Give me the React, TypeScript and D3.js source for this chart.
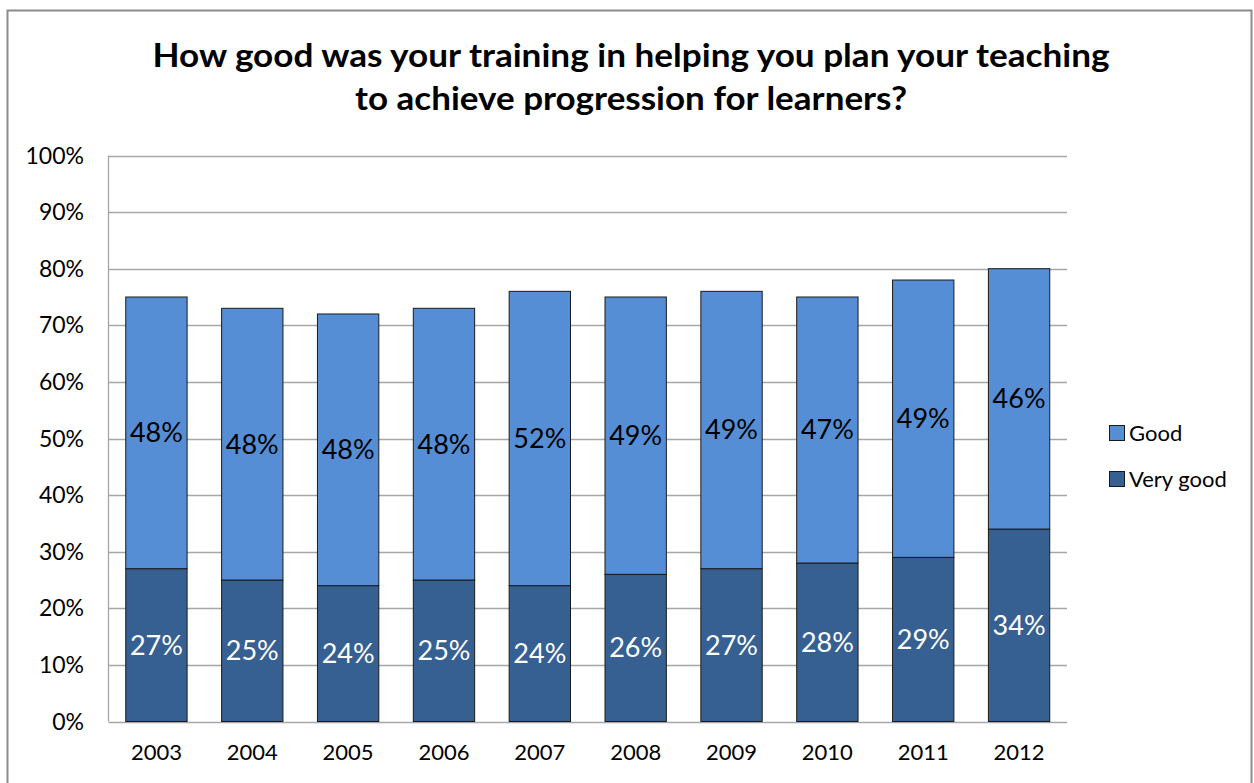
import React from "react";
import * as d3 from "d3";

const years = ["2003", "2004", "2005", "2006", "2007", "2008", "2009", "2010", "2011", "2012"];
const veryGood = [27, 25, 24, 25, 24, 26, 27, 28, 29, 34];
const good = [48, 48, 48, 48, 52, 49, 49, 47, 49, 46];
const yTicks = [0, 10, 20, 30, 40, 50, 60, 70, 80, 90, 100];
const titleLines = [
  "How good was your training in helping you plan your teaching",
  "to achieve progression for learners?",
];
const seriesNames = ["Good", "Very good"];

const COLOR_GOOD = "#558ED5";
const COLOR_VG = "#376092";
const FONT = "Lato, 'Open Sans', sans-serif";

export default function App() {
  const W = 1254, H = 783;
  const left = 108.5, right = 1067, top = 155.5, bottom = 721.5;
  const x = d3.scaleBand<string>().domain(years).range([left, right]).paddingInner(0.36).paddingOuter(0.18);
  const y = d3.scaleLinear().domain([0, 100]).range([bottom, top]);
  const titleWidths = [957, 552];

  return (
    <svg width={W} height={H} style={{ position: "absolute", left: 0, top: 0, background: "#fff" }}>
      <rect x={7.5} y={10.5} width={1244} height={790} fill="#fff" stroke="#8c8c8c" strokeWidth={2} />
      {titleLines.map((t, i) => (
        <text key={i} x={631} y={67 + i * 43} textAnchor="middle" fontFamily={FONT} fontWeight="bold" fontSize={32}
          textLength={titleWidths[i]} lengthAdjust="spacingAndGlyphs" fill="#000">
          {t}
        </text>
      ))}
      {yTicks.map((t) => (
        <g key={t}>
          <line x1={left} x2={right} y1={Math.round(y(t)) + 0.5} y2={Math.round(y(t)) + 0.5} stroke="#a6a6a6" strokeWidth={1.3} />
          <text x={84} y={y(t)} dy="0.35em" textAnchor="end" fontFamily={FONT} fontSize={23} fill="#000">
            {t}%
          </text>
        </g>
      ))}
      <line x1={left} x2={left} y1={top} y2={bottom} stroke="#a6a6a6" strokeWidth={1.3} />
      {years.map((yr, i) => {
        const bx = x(yr)!;
        const bw = x.bandwidth();
        const v = veryGood[i];
        const g = good[i];
        return (
          <g key={yr}>
            <rect x={bx} y={y(v)} width={bw} height={y(0) - y(v)} fill={COLOR_VG} stroke="#1a1a1a" strokeWidth={1} />
            <rect x={bx} y={y(v + g)} width={bw} height={y(v) - y(v + g)} fill={COLOR_GOOD} stroke="#1a1a1a" strokeWidth={1} />
            <text x={bx + bw / 2} y={y(v / 2)} dy="0.35em" textAnchor="middle" fontFamily={FONT} fontSize={27} fill="#fff">
              {v}%
            </text>
            <text x={bx + bw / 2} y={y(v + g / 2)} dy="0.35em" textAnchor="middle" fontFamily={FONT} fontSize={27} fill="#000">
              {g}%
            </text>
            <text x={bx + bw / 2} y={752} dy="0.35em" textAnchor="middle" fontFamily={FONT} fontSize={22} fill="#000">
              {yr}
            </text>
          </g>
        );
      })}
      {seriesNames.map((s, i) => (
        <g key={s}>
          <rect x={1109.5} y={425.5 + i * 46} width={15} height={15} fill={i === 0 ? COLOR_GOOD : COLOR_VG} stroke="#1a1a1a" strokeWidth={1} />
          <text x={1129} y={433 + i * 46} dy="0.35em" fontFamily={FONT} fontSize={22} fill="#000">
            {s}
          </text>
        </g>
      ))}
    </svg>
  );
}
